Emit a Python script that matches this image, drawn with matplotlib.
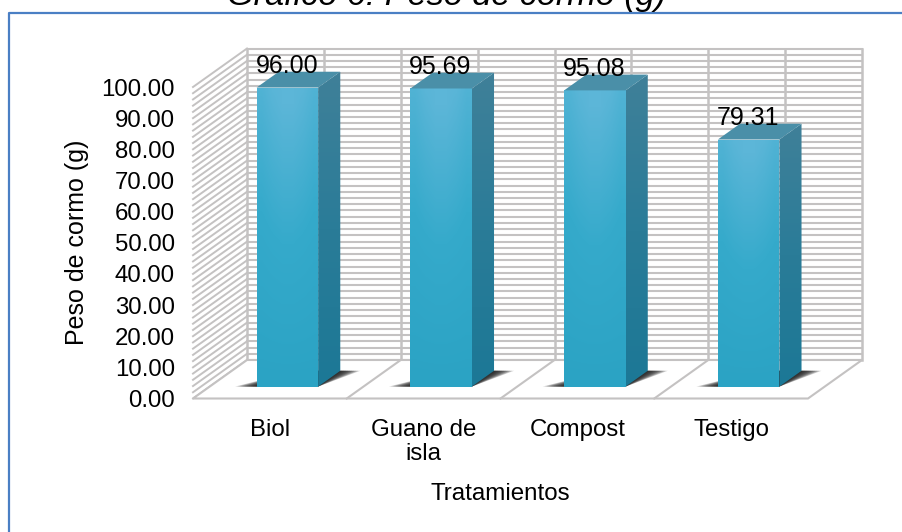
import numpy as np
import matplotlib
matplotlib.use('Agg')
import matplotlib.pyplot as plt
from matplotlib.colors import LinearSegmentedColormap
from matplotlib.patches import Polygon

categorias = ['Biol', 'Guano de\nisla', 'Compost', 'Testigo']
peso = [96.00, 95.69, 95.08, 79.31]
etiquetas = ['96.00', '95.69', '95.08', '79.31']

plt.rcParams['font.family'] = ['Liberation Sans', 'DejaVu Sans']

fig = plt.figure(figsize=(9.03, 5.32), dpi=100)
ax = fig.add_axes([193 / 903, 1 - 398.5 / 532, 615 / 903, 311.5 / 532])

# depth of the fake 3D box, in data units
DX = 54 / 153.75
DY = 38.5 / 3.115
GRIS = '#c4c2c2'


def punto(x, y, d):
    return (x + d * DX, y + d * DY)


def cara_degradada(esquinas, datos, cmap, extent):
    # gradient image cut to the shape of one bar face
    forma = Polygon(esquinas, fc='none', ec='none', zorder=4, clip_on=False)
    ax.add_patch(forma)
    img = ax.imshow(datos, cmap=cmap, vmin=0, vmax=1, extent=extent, aspect='auto',
                    zorder=4, interpolation='bilinear')
    # the image would otherwise stop at the top of the axes
    img.set_clip_box(fig.bbox)
    img.set_clip_path(forma)


# back wall
for v in np.arange(0, 101, 2):
    ax.plot([DX, 4 + DX], [v + DY, v + DY], color=GRIS, lw=1.5, zorder=1, clip_on=False)
for k in np.arange(0, 4.01, 0.5):
    ax.plot([k + DX, k + DX], [DY, 100 + DY], color=GRIS, lw=1.8, zorder=1, clip_on=False)

# side wall
for v in np.arange(0, 101, 2):
    ax.plot([0, DX], [v, v + DY], color=GRIS, lw=1.4, zorder=1, clip_on=False)

# floor
ax.add_patch(Polygon([(0, 0), (4, 0), (4 + DX, DY), (DX, DY)], fc='white', ec=GRIS, lw=1.5, zorder=2, clip_on=False))
for k in range(1, 4):
    ax.plot([k, k + DX], [0, DY], color=GRIS, lw=1.5, zorder=2, clip_on=False)

cara = LinearSegmentedColormap.from_list('cara', ['#2ba3c4', '#35aacb', '#5cb6d8'])
lado = LinearSegmentedColormap.from_list('lado', ['#1c7896', '#2a7c98', '#3f8099'])

D0, D1 = 0.31, 0.72
ANCHO = 0.40
alto = np.linspace(1, 0, 64).reshape(-1, 1)
ancho = np.array([[0.0, 0.12, 0.2, 0.2, 0.12, 0.0]])
for i, v in enumerate(peso):
    izq = i + 0.5 - ANCHO / 2 + 0.005
    der = izq + ANCHO

    # soft shadow on the floor
    for g in np.linspace(0.1, 1, 10):
        sombra = [punto(izq - 0.14 * g, 0, D0),
                  punto(der, 0, D0),
                  punto(der + 0.13 * g, 0, D1),
                  punto(izq + 0.12, 0, D1)]
        ax.add_patch(Polygon(sombra, fc='#1a1a1a', ec='none', alpha=0.2, zorder=3, clip_on=False))

    x0, y0 = punto(izq, 0, D0)
    x1, y1 = punto(der, v, D0)
    x2, y2 = punto(der, v, D1)

    # front face, a bit lighter down the middle
    cara_degradada([punto(izq, 0, D0), punto(der, 0, D0), punto(der, v, D0), punto(izq, v, D0)],
                   np.clip(alto * 0.85 + alto * ancho, 0, 1), cara, [x0, x1, y0, y1])

    # side face
    cara_degradada([punto(der, 0, D0), punto(der, 0, D1), punto(der, v, D1), punto(der, v, D0)],
                   alto, lado, [x1, x2, y0, y2])

    # top face
    ax.add_patch(Polygon([punto(izq, v, D0), punto(der, v, D0), punto(der, v, D1), punto(izq, v, D1)],
                         fc='#4a8fa8', ec='none', zorder=4, clip_on=False))

    ax.text(i + 0.5 + 0.11, v + 8.5, etiquetas[i], ha='center', va='baseline',
            fontsize=18, color='black', zorder=6, clip_on=False)

ax.set_xlim(0, 4)
ax.set_ylim(0, 100)
ax.set_xticks([0.5, 1.5, 2.5, 3.5])
ax.set_xticklabels(categorias, fontsize=17.3, linespacing=1.12)
ax.set_yticks(np.arange(0, 101, 10))
ax.set_yticklabels(['%.2f' % t for t in np.arange(0, 101, 10)], fontsize=17.3)
ax.tick_params(axis='x', length=0, pad=14.5)
ax.tick_params(axis='y', length=0, pad=13)
ax.set_xlabel('Tratamientos', fontsize=17.4, labelpad=13)
ax.set_ylabel('Peso de cormo (g)', fontsize=18, labelpad=9)
for s in ax.spines.values():
    s.set_visible(False)
ax.patch.set_visible(False)

# blue frame, only top and left show in the crop
fig.add_artist(plt.Line2D([8.5 / 903, 8.5 / 903, 1], [0, 1 - 12.5 / 532, 1 - 12.5 / 532], color='#4a7fc4', lw=1.6))

fig.text(447 / 903, 1 - 5 / 532, 'Gráfico 6: Peso de cormo (g)', ha='center', va='baseline',
         fontsize=24.7, style='italic', color='black')

fig.savefig('out.png', dpi=100)
